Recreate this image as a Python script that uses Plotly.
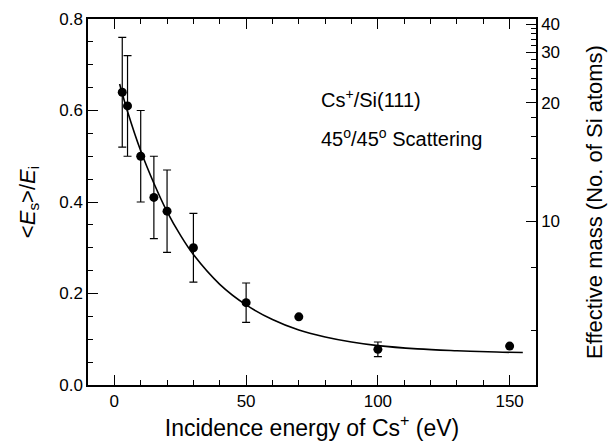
import plotly.graph_objects as go

energy = [3, 5, 10, 15, 20, 30, 50, 70, 100, 150]
ratio = [0.64, 0.61, 0.50, 0.41, 0.38, 0.30, 0.18, 0.149, 0.078, 0.085]
err = [0.12, 0.11, 0.10, 0.09, 0.09, 0.075, 0.043, 0, 0.016, 0]

# Fitted curve
fit_x = [2, 5, 10, 15, 20, 25, 30, 40, 50, 60, 70, 80, 90, 100, 115, 130, 145, 155]
fit_y = [0.658, 0.598, 0.512, 0.441, 0.379, 0.328, 0.285, 0.220, 0.175, 0.143,
         0.120, 0.105, 0.094, 0.086, 0.079, 0.075, 0.072, 0.071]

# Right axis: effective mass in number of Si atoms
mass_major = [10, 20, 30, 40]
mass_minor = [6, 8, 12, 14, 16, 18, 22, 24, 26, 28, 32, 34, 36, 38]
M_SI = 28.0855
M_CS = 132.905


def mass_to_ratio(n):
    # elastic binary collision at 90 degree total scattering angle
    a = n * M_SI / M_CS
    return (a - 1) / (a + 1)


FONT = "Liberation Sans, Arial, sans-serif"

fig = go.Figure()

fig.add_trace(go.Scatter(
    x=fit_x, y=fit_y, mode="lines", line=dict(color="black", width=1.6, shape="spline"),
    showlegend=False, hoverinfo="skip"))

fig.add_trace(go.Scatter(
    x=energy, y=ratio, mode="markers",
    marker=dict(color="black", size=9),
    error_y=dict(type="data", array=err, visible=True, color="black", thickness=1.2, width=4),
    showlegend=False))

# dummy trace to activate the right axis
fig.add_trace(go.Scatter(x=[None], y=[None], yaxis="y2", showlegend=False))

fig.update_layout(
    width=608, height=441,
    margin=dict(l=88, r=72, t=19, b=56),
    paper_bgcolor="white", plot_bgcolor="white",
    font=dict(family=FONT, size=17, color="black"),
    xaxis=dict(
        range=[-10, 160], tickvals=[0, 50, 100, 150], ticks="inside", ticklen=10, tickwidth=1.3,
        showline=True, linecolor="black", linewidth=1.5, mirror="ticks", showgrid=False, zeroline=False,
        minor=dict(dtick=10, tick0=0, ticks="inside", ticklen=5, tickwidth=1.2, tickcolor="black"),
        tickcolor="black", automargin=False,
        title=dict(text="Incidence energy of Cs<sup>+</sup> (eV)", font=dict(size=23), standoff=9),
    ),
    yaxis=dict(
        range=[0, 0.8], tickvals=[0, 0.2, 0.4, 0.6, 0.8], ticktext=["0.0", "0.2", "0.4", "0.6", "0.8"],
        ticks="inside", ticklen=10, tickwidth=1.3, tickcolor="black", automargin=False,
        showline=True, linecolor="black", linewidth=1.5, mirror=False, showgrid=False, zeroline=False,
        minor=dict(dtick=0.05, tick0=0, ticks="inside", ticklen=5, tickwidth=1.2, tickcolor="black"),
        title=dict(text="&lt;<i>E</i><sub>s</sub>&gt;/<i>E</i><sub>i</sub>", font=dict(size=22), standoff=18),
    ),
    yaxis2=dict(
        overlaying="y", side="right", range=[0, 0.8], automargin=False,
        tickmode="array", tickvals=[mass_to_ratio(n) for n in mass_major],
        ticktext=[str(n) for n in mass_major],
        ticks="inside", ticklen=10, tickwidth=1.3, tickcolor="black",
        showline=True, linecolor="black", linewidth=1.5, showgrid=False, zeroline=False,
        minor=dict(tickmode="array", tickvals=[mass_to_ratio(n) for n in mass_minor],
                   ticks="inside", ticklen=5, tickwidth=1.2, tickcolor="black"),
        title=dict(text="Effective mass (No. of Si atoms)", font=dict(size=22), standoff=28),
    ),
)

fig.add_annotation(text="Cs<sup>+</sup>/Si(111)", x=77.5, y=0.627, xref="x", yref="y",
                   xanchor="left", yanchor="middle", showarrow=False, font=dict(size=20))
fig.add_annotation(text="45<sup>o</sup>/45<sup>o</sup> Scattering", x=77.5, y=0.542, xref="x", yref="y",
                   xanchor="left", yanchor="middle", showarrow=False, font=dict(size=20))

fig.write_html("out.html")
